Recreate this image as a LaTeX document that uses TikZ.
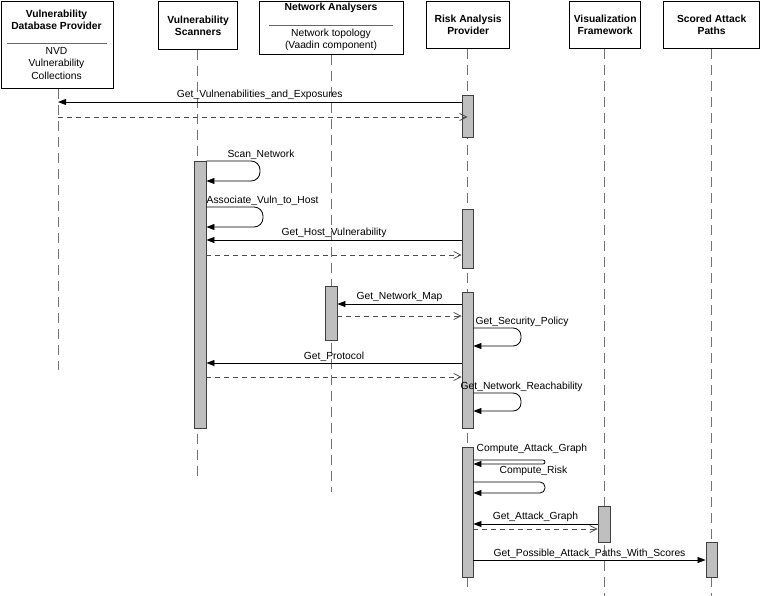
\documentclass[tikz,border=0pt]{standalone}
\usepackage{fontspec}
\setmainfont{Liberation Sans}
\usetikzlibrary{arrows.meta}

\begin{document}
\begin{tikzpicture}[x=1pt,y=-1pt]
	\tikzstyle{actor}=[draw,line width=1.3pt,inner sep=0pt,align=center,font=\fontsize{10.3}{12}\selectfont\bfseries];
	\tikzstyle{title}=[inner sep=0pt,align=center,font=\fontsize{10.3}{12}\selectfont\bfseries];
	\tikzstyle{sub}=[inner sep=0pt,align=center,font=\fontsize{10.3}{12.5}\selectfont];
	\tikzstyle{life}=[draw=black!55,line width=0.9pt,dash pattern=on 10pt off 6pt];
	\tikzstyle{act}=[draw=black!75,fill=black!25,line width=0.9pt,inner sep=0pt,anchor=north];
	\tikzstyle{msg}=[line width=0.8pt,-{Triangle[length=8pt,width=6pt]}];
	\tikzstyle{ret}=[draw=black!70,line width=0.8pt,dash pattern=on 5pt off 4pt,-{Straight Barb[length=7pt,width=7pt]}];
	\tikzstyle{lbl}=[inner sep=1.5pt,font=\fontsize{10.3}{12}\selectfont];
	\useasboundingbox (0,0) rectangle (760,596);

	% lifeline heads
	\node[actor,minimum width=112pt,minimum height=87pt,anchor=north west] (vdp) at (0.7,0.7) {};
	\node[title] (vdpT) at (56.5,20) {Vulnerability\\Database Provider};
	\draw[black!60,line width=0.6pt] (7,43) -- (107,43);
	\node[sub] (vdpS) at (56.5,63.5) {NVD\\Vulnerability\\Collections};
	\node[actor,minimum width=79pt,minimum height=48.3pt,anchor=north west] (vs) at (158,0.7) {Vulnerability\\Scanners};
	\node[actor,minimum width=144pt,minimum height=53.3pt,anchor=north west] (na) at (259,0.7) {};
	\node[title] (naT) at (331,8) {Network Analysers};
	\draw[black!60,line width=0.6pt] (269,25) -- (393,25);
	\node[sub] (naS) at (331,40) {Network topology\\(Vaadin component)};
	\node[actor,minimum width=83pt,minimum height=47.3pt,anchor=north west] (rap) at (426,0.7) {Risk Analysis\\Provider};
	\node[actor,minimum width=71pt,minimum height=47.3pt,anchor=north west] (vf) at (569,0.7) {Visualization\\Framework};
	\node[actor,minimum width=96pt,minimum height=47.3pt,anchor=north west] (sap) at (663,0.7) {Scored Attack\\Paths};

	% lifelines
	\coordinate (vdpL) at (58,370);
	\coordinate (vsL) at (197,477);
	\coordinate (naL) at (331,492);
	\coordinate (rapL) at (467.5,590);
	\coordinate (vfL) at (604,596);
	\coordinate (sapL) at (711.5,596);
	\draw[life] (vdpL |- vdp.south) -- (vdpL);
	\draw[life] (vsL |- vs.south) -- (vsL);
	\draw[life] (naL |- na.south) -- (naL);
	\draw[life] (rapL |- rap.south) -- (rapL);
	\draw[life] (vfL |- vf.south) -- (vfL);
	\draw[life] (sapL |- sap.south) -- (sapL);

	% activations
	\node[act,minimum width=11pt,minimum height=42pt] (ra1) at (467.5,95) {};
	\node[act,minimum width=12pt,minimum height=267pt] (vs1) at (200,161) {};
	\node[act,minimum width=11pt,minimum height=59pt] (ra2) at (467.5,209) {};
	\node[act,minimum width=12pt,minimum height=54pt] (na1) at (331,286) {};
	\node[act,minimum width=11pt,minimum height=136pt] (ra3) at (467.5,292) {};
	\node[act,minimum width=11pt,minimum height=130pt] (ra4) at (467.5,447) {};
	\node[act,minimum width=12pt,minimum height=36pt] (vf1) at (604,506) {};
	\node[act,minimum width=11pt,minimum height=35pt] (sa1) at (711.5,542) {};

	% messages
	\draw[msg] (ra1.west |- 0,102) -- node[lbl,above]{Get\_Vulnenabilities\_and\_Exposures} (vdpL |- 0,102);
	\draw[ret] (vdpL |- 0,117) -- (ra1.center |- 0,117);
	\draw[msg,rounded corners=9pt] (vs1.north east) -- (260,161) |- (vs1.east |- 0,181);
	\node[lbl,anchor=south] at (261,161) {Scan\_Network};
	\draw[msg,rounded corners=9pt] (vs1.east |- 0,207) -- (263,207) |- (vs1.east |- 0,227);
	\node[lbl,anchor=south west] at (205,207) {Associate\_Vuln\_to\_Host};
	\draw[msg] (ra2.west |- 0,240) -- node[lbl,above]{Get\_Host\_Vulnerability} (vs1.east |- 0,240);
	\draw[ret] (vs1.east |- 0,255) -- (ra2.west |- 0,255);
	\draw[msg] (ra3.west |- 0,304) -- node[lbl,above]{Get\_Network\_Map} (na1.east |- 0,304);
	\draw[ret] (na1.east |- 0,316) -- (ra3.west |- 0,316);
	\draw[msg,rounded corners=8pt] (ra3.east |- 0,328) -- (521,328) |- (ra3.east |- 0,346);
	\node[lbl,anchor=south west] at (474,328) {Get\_Security\_Policy};
	\draw[msg] (ra3.west |- 0,363) -- node[lbl,above]{Get\_Protocol} (vs1.east |- 0,363);
	\draw[ret] (vs1.east |- 0,377) -- (ra3.west |- 0,377);
	\draw[msg,rounded corners=8pt] (ra3.east |- 0,393) -- (521,393) |- (ra3.east |- 0,411);
	\node[lbl,anchor=south west] at (459,393) {Get\_Network\_Reachability};
	\draw[msg,rounded corners=2pt] (ra4.east |- 0,460) -- (545,460) |- (ra4.east |- 0,464);
	\node[lbl,anchor=south west] at (475,455) {Compute\_Attack\_Graph};
	\draw[msg,rounded corners=5pt] (ra4.east |- 0,482) -- (545,482) |- (ra4.east |- 0,493);
	\node[lbl,anchor=south west] at (498,477) {Compute\_Risk};
	\draw[msg] (vf1.west |- 0,524) -- node[lbl,above]{Get\_Attack\_Graph} (ra4.east |- 0,524);
	\draw[ret] (ra4.east |- 0,529) -- (vf1.west |- 0,529);
	\draw[msg] (ra4.east |- 0,560) -- node[lbl,above]{Get\_Possible\_Attack\_Paths\_With\_Scores} (sa1.west |- 0,560);
\end{tikzpicture}
\end{document}
